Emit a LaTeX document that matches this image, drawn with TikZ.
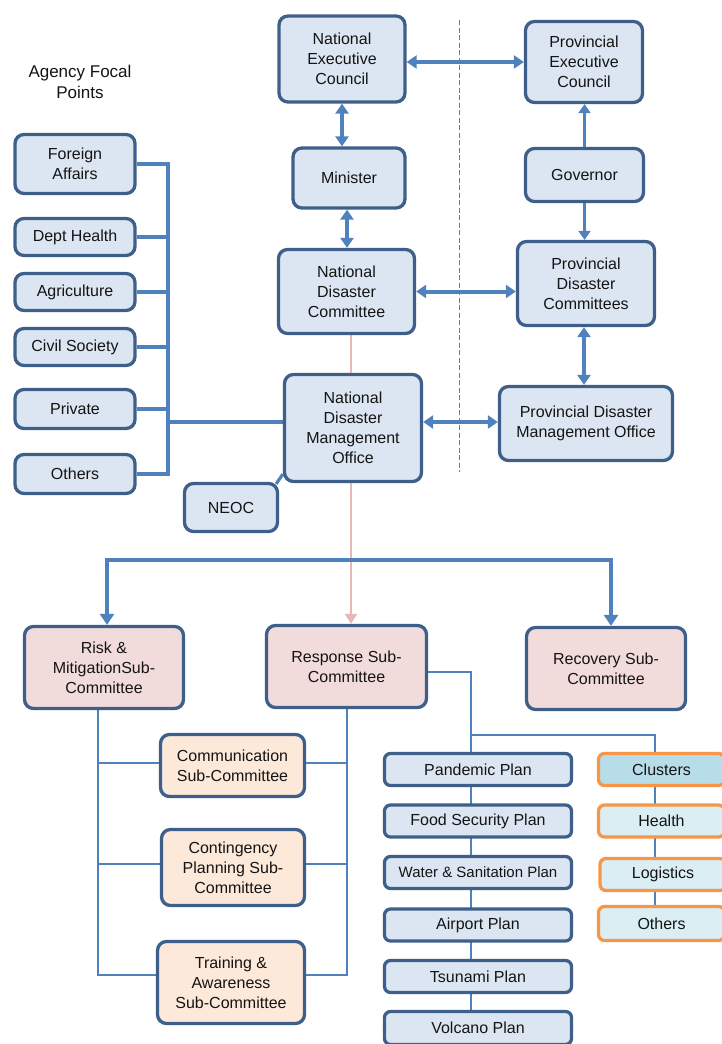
\documentclass[tikz,border=0pt]{standalone}
\usepackage{fontspec}
\setmainfont{Liberation Sans}
\usetikzlibrary{arrows.meta,backgrounds,calc}
\definecolor{bord}{HTML}{3E5F8A}
\definecolor{fillb}{HTML}{DCE6F2}
\definecolor{arr}{HTML}{4F81BD}
\definecolor{pinkf}{HTML}{F2DCDB}
\definecolor{peach}{HTML}{FDE9D9}
\definecolor{pinkl}{HTML}{E6B9B8}
\definecolor{orng}{HTML}{F79646}
\definecolor{clus}{HTML}{B7DDE8}
\definecolor{clusl}{HTML}{DBEEF3}
\definecolor{txt}{HTML}{141414}
\begin{document}
\begin{tikzpicture}[x=1pt,y=-1pt,
  box/.style={draw=bord, line width=3.3pt, rounded corners=9pt, fill=fillb, text=txt,
    align=center, inner sep=0pt, font=\fontsize{16}{20}\selectfont},
  com/.style={box, fill=pinkf},
  sub/.style={box, fill=peach},
  plan/.style={box, minimum width=187pt, minimum height=32pt, rounded corners=6pt},
  clb/.style={box, draw=orng, fill=clusl, minimum width=126pt, minimum height=32pt, rounded corners=6pt},
  agb/.style={box, minimum width=120pt},
  dbl/.style={draw=arr, line width=4pt, {Triangle[length=10pt,width=13pt]}-{Triangle[length=10pt,width=13pt]}},
  sgl/.style={draw=arr, line width=3.3pt, -{Triangle[length=9pt,width=12pt]}},
  bus/.style={draw=arr, line width=3.2pt},
  bigbus/.style={draw=arr, line width=4pt, -{Triangle[length=11pt,width=14pt]}},
  thinline/.style={draw=arr, line width=1.5pt},
  pinkarrow/.style={draw=pinkl, line width=2.6pt, -{Triangle[length=10pt,width=12pt]}},
  sepline/.style={draw=arr, line width=1pt, dash pattern=on 5pt off 2.5pt},
]
\useasboundingbox (0,0) rectangle (722,1044);
\clip (0,0) rectangle (722,1044);

% top national column
\node[box, minimum width=126pt, minimum height=86pt] (nec) at (342,59) {National\\Executive\\Council};
\node[box, minimum width=112pt, minimum height=60pt] (min) at (349,178) {Minister};
\node[box, minimum width=136pt, minimum height=84pt] (ndc) at (346.5,291.5) {National\\Disaster\\Committee};
\node[box, minimum width=137pt, minimum height=107pt] (ndmo) at (353,428) {National\\Disaster\\Management\\Office};
\node[box, minimum width=93pt, minimum height=48pt] (neoc) at (231,507.5) {NEOC};

% provincial column
\node[box, minimum width=117pt, minimum height=81pt] (pec) at (584,62) {Provincial\\Executive\\Council};
\node[box, minimum width=118pt, minimum height=53pt] (gov) at (584.5,175) {Governor};
\node[box, minimum width=137pt, minimum height=84pt] (pdc) at (586,283.5) {Provincial\\Disaster\\Committees};
\node[box, minimum width=173pt, minimum height=74pt] (pdmo) at (586,423.5) {Provincial Disaster\\Management Office};

% agency focal points
\node[text=txt, align=center, font=\fontsize{17}{21}\selectfont] (afp) at (80,82) {Agency Focal\\Points};
\node[agb, minimum height=59pt] (fa) at (75,164) {Foreign\\Affairs};
\node[agb, minimum height=37pt] (dh) at (75,237) {Dept Health};
\node[agb, minimum height=37pt] (ag) at (75,292) {Agriculture};
\node[agb, minimum height=37pt] (cs) at (75,347) {Civil Society};
\node[agb, minimum height=39pt] (pr) at (75,409) {Private};
\node[agb, minimum height=39pt] (ot) at (75,474) {Others};

% sub-committees
\node[com, minimum width=159pt, minimum height=82pt] (risk) at (104,667.5) {Risk \&\\MitigationSub-\\Committee};
\node[com, minimum width=160pt, minimum height=82pt] (resp) at (346.5,666.5) {Response Sub-\\Committee};
\node[com, minimum width=159pt, minimum height=82pt] (rec) at (606,668.5) {Recovery Sub-\\Committee};

\node[sub, minimum width=144pt, minimum height=62pt] (comm) at (232.5,765.5) {Communication\\Sub-Committee};
\node[sub, minimum width=143pt, minimum height=76pt] (cont) at (233,867.5) {Contingency\\Planning Sub-\\Committee};
\node[sub, minimum width=147pt, minimum height=82pt] (train) at (231,982.5) {Training \&\\Awareness\\Sub-Committee};

% plans
\node[plan] (pan) at (478,769.5) {Pandemic Plan};
\node[plan] (food) at (478,821) {Food Security Plan};
\node[plan, font=\fontsize{15}{19}\selectfont] (wat) at (478,872.5) {Water \& Sanitation Plan};
\node[plan] (air) at (478,925) {Airport Plan};
\node[plan] (tsu) at (478,976.5) {Tsunami Plan};
\node[plan, minimum height=33pt] (vol) at (478,1028) {Volcano Plan};

% clusters
\node[clb, fill=clus] (clu) at (661.5,769.5) {Clusters};
\node[clb] (hea) at (661.5,821) {Health};
\node[clb] (logi) at (663,874.5) {Logistics};
\node[clb, minimum height=34pt] (oth) at (661.5,923.5) {Others};

\begin{scope}[on background layer]
  % separator
  \coordinate (sepT) at (459,20);
  \coordinate (sepB) at (459,472);
  \draw[sepline] (sepT) -- (sepB);

  % national/provincial arrows
  \draw[dbl] (pec.west -| nec.east) -- (pec.west);
  \draw[dbl] (nec.south) -- (nec.south |- min.north);
  \draw[dbl] ([xshift=-2pt]min.south) -- ([xshift=-2pt]min.south |- ndc.north);
  \draw[dbl] (ndc.east) -- (ndc.east -| pdc.west);
  \draw[sgl] (gov.north) -- (gov.north |- pec.south);
  \draw[sgl] (gov.south) -- (gov.south |- pdc.north);
  \draw[dbl] ([xshift=-2pt]pdc.south) -- ([xshift=-2pt]pdc.south |- pdmo.north);
  \draw[dbl] ([yshift=6pt]ndmo.east) -- ([yshift=6pt]ndmo.east -| pdmo.west);

  % agency bus
  \coordinate (bx) at (168,0);
  \draw[bus] (fa.east) -- (fa.east -| bx) -- (ot.east -| bx) -- (ot.east);
  \foreach \n in {dh,ag,cs,pr} \draw[bus] (\n.east) -- (\n.east -| bx);
  \draw[bus] ([yshift=6pt]ndmo.west) -- ([yshift=6pt]ndmo.west -| bx);
  \draw[bus] ([xshift=-3pt,yshift=-2pt]neoc.north east) -- ([yshift=9pt]ndmo.south west);

  % pink line
  \coordinate (pk) at (351,0);
  \draw[draw=pinkl, line width=2.6pt] (ndc.south -| pk) -- (ndmo.north -| pk);
  \draw[pinkarrow] (ndmo.south -| pk) -- (resp.north -| pk);

  % blue bus to sub-committees
  \coordinate (bj) at (351,560);
  \draw[bigbus] (bj) -| ([xshift=3pt]risk.north);
  \draw[bigbus] (bj) -| ([xshift=5pt]rec.north);

  % risk / response to sub-sub-committees
  \coordinate (rl) at (98,0);
  \coordinate (rr) at (347,0);
  \draw[thinline] (risk.south -| rl) -- (rl |- 0,975) -- ([yshift=7.5pt]train.west);
  \draw[thinline] (resp.south -| rr) -- (rr |- 0,975) -- ([yshift=7.5pt]train.east);
  \draw[thinline] ([yshift=2.5pt]comm.west -| rl) -- ([yshift=2.5pt]comm.west);
  \draw[thinline] ([yshift=2.5pt]comm.east) -- ([yshift=2.5pt]comm.east -| rr);
  \draw[thinline] ([yshift=3.5pt]cont.west -| rl) -- ([yshift=3.5pt]cont.west);
  \draw[thinline] ([yshift=3.5pt]cont.east) -- ([yshift=3.5pt]cont.east -| rr);

  % response to plans and clusters
  \coordinate (pj) at (471,735);
  \coordinate (cj) at (655,735);
  \draw[thinline] ([yshift=-5.5pt]resp.east) -| (pj) -- (pj |- vol.north);
  \draw[thinline] (pj) -- (cj) -- (cj |- oth.north);
\end{scope}
\end{tikzpicture}
\end{document}
